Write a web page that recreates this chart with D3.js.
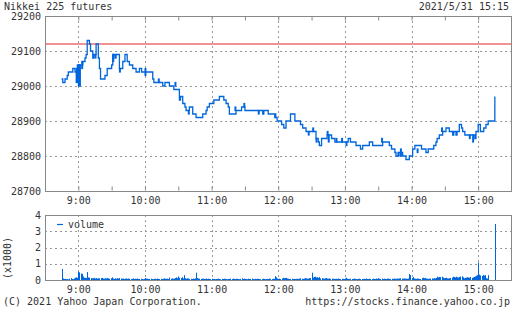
<!DOCTYPE html>
<html>
<head>
<meta charset="utf-8">
<script src="https://cdn.jsdelivr.net/npm/d3@7"></script>
<style>
  body { margin: 0; background: #fff; }
  svg { display: block; }
  text { font-family: "DejaVu Sans Mono", "Liberation Mono", monospace; font-size: 10px; fill: #333; }
</style>
</head>
<body>
<svg id="chart" width="512" height="310"></svg>
<script>
const title = "Nikkei 225 futures";
const stamp = "2021/5/31 15:15";
const day = "2021-05-31";
const refLine = 29120;

const priceTicks = [28700, 28800, 28900, 29000, 29100, 29200];
const volTicks = [0, 1, 2, 3, 4];
const hourTicks = ["9:00", "10:00", "11:00", "12:00", "13:00", "14:00", "15:00"];
const halfTicks = ["8:30", "9:00", "9:30", "10:00", "10:30", "11:00", "11:30", "12:00", "12:30",
  "13:00", "13:30", "14:00", "14:30", "15:00", "15:30"];

// price changes (step line)
const priceTimes = [
  "8:45", "8:46", "8:48", "8:50", "8:51", "8:55", "8:57", "8:58", "8:59", "9:00",
  "9:01", "9:03", "9:04", "9:06", "9:07", "9:08", "9:10", "9:11", "9:13", "9:14",
  "9:16", "9:18", "9:19", "9:20", "9:24", "9:26", "9:30", "9:31", "9:33", "9:34",
  "9:37", "9:40", "9:42", "9:44", "9:46", "9:49", "9:52", "9:55", "9:57", "10:07",
  "10:08", "10:16", "10:18", "10:22", "10:26", "10:28", "10:31", "10:32", "10:34", "10:36",
  "10:37", "10:40", "10:43", "10:46", "10:52", "10:55", "10:56", "10:58", "11:02", "11:07",
  "11:11", "11:13", "11:15", "11:16", "11:22", "11:27", "11:30", "11:44", "11:46", "11:47",
  "11:51", "11:57", "11:59", "12:03", "12:05", "12:07", "12:11", "12:15", "12:20", "12:22",
  "12:25", "12:29", "12:33", "12:34", "12:36", "12:37", "12:39", "12:44", "12:48", "12:51",
  "12:54", "12:58", "13:03", "13:05", "13:10", "13:14", "13:16", "13:22", "13:25", "13:34",
  "13:40", "13:42", "13:45", "13:46", "13:48", "13:52", "13:55", "13:58", "14:01", "14:03",
  "14:06", "14:09", "14:13", "14:15", "14:20", "14:22", "14:23", "14:25", "14:28", "14:31",
  "14:34", "14:37", "14:38", "14:40", "14:41", "14:43", "14:45", "14:46", "14:48", "14:53",
  "14:57", "14:58", "15:00", "15:02", "15:05", "15:07", "15:09", "15:15"
];
const priceValues = [
  29020, 29010, 29020, 29030, 29040, 29050, 29040, 29040, 29050, 29060,
  29060, 29060, 29070, 29080, 29090, 29130, 29120, 29100, 29080, 29090,
  29120, 29080, 29050, 29020, 29030, 29050, 29060, 29090, 29080, 29090,
  29050, 29070, 29090, 29070, 29060, 29050, 29040, 29050, 29040, 29020,
  29010, 29000, 29010, 29000, 28990, 28990, 28960, 28970, 28950, 28940,
  28930, 28940, 28920, 28910, 28920, 28930, 28940, 28950, 28960, 28970,
  28960, 28950, 28940, 28920, 28930, 28940, 28930, 28930, 28920, 28930,
  28920, 28910, 28900, 28890, 28880, 28900, 28920, 28900, 28890, 28880,
  28870, 28870, 28870, 28850, 28840, 28830, 28850, 28860, 28850, 28840,
  28840, 28840, 28850, 28840, 28830, 28820, 28830, 28840, 28830, 28840,
  28830, 28820, 28810, 28800, 28810, 28800, 28790, 28800, 28820, 28830,
  28830, 28820, 28810, 28820, 28830, 28840, 28850, 28860, 28870, 28880,
  28870, 28860, 28870, 28860, 28870, 28890, 28880, 28870, 28860, 28860,
  28850, 28870, 28890, 28870, 28880, 28890, 28900, 28970
];

// minutes that traded over a range
const spikeTimes = ["8:58", "8:59", "9:00", "9:01", "9:03", "9:15", "9:31", "9:37", "10:00", "10:12",
  "10:27", "10:39", "11:21", "11:29", "11:42", "11:57", "12:27", "12:31", "12:34", "12:44",
  "12:45", "12:52", "12:57", "13:01", "13:33", "13:48", "13:50", "14:05", "14:27", "14:52", "14:55"];
const spikeLow = [29010, 29010, 29000, 29000, 29050, 29080, 29070, 29040, 29030, 29010,
  29000, 28920, 28930, 28940, 28920, 28910, 28860, 28870, 28840, 28860,
  28840, 28840, 28840, 28830, 28840, 28800, 28800, 28810, 28870, 28850, 28840];
const spikeHigh = [29050, 29060, 29060, 29060, 29070, 29090, 29090, 29050, 29050, 29020,
  29010, 28930, 28940, 28950, 28930, 28920, 28870, 28880, 28850, 28870,
  28860, 28850, 28850, 28840, 28850, 28810, 28820, 28820, 28880, 28860, 28860];

// volume per minute from 8:45, one row per 15 minutes
const volStart = "8:45";
const volumes = [
  680, 90, 60, 70, 50, 60, 40, 80, 120, 60, 50, 90, 140, 160, 130,
  510, 470, 400, 380, 210, 140, 130, 120, 490, 160, 140, 120, 100, 110, 130,
  90, 120, 80, 110, 100, 120, 130, 90, 80, 110, 90, 120, 100, 80, 110,
  160, 90, 70, 100, 80, 110, 90, 120, 100, 80, 90, 60, 80, 100, 70,
  90, 80, 60, 70, 100, 60, 80, 70, 90, 60, 70, 80, 60, 50, 70,
  120, 90, 80, 60, 70, 80, 60, 50, 70, 80, 60, 90, 70, 60, 80,
  60, 70, 100, 80, 70, 90, 60, 150, 80, 100, 70, 90, 120, 160, 110,
  220, 140, 120, 170, 90, 300, 110, 80, 100, 90, 70, 80, 60, 90, 70,
  100, 450, 120, 90, 80, 70, 90, 80, 60, 70, 90, 60, 80, 70, 60,
  80, 60, 70, 50, 60, 70, 80, 60, 50, 70, 60, 80, 70, 60, 50,
  60, 70, 80, 60, 90, 70, 60, 80, 70, 60, 50, 70, 110, 60, 80,
  70, 60, 50, 80, 60, 70, 90, 60, 50, 70, 60, 80, 70, 60, 50,
  60, 80, 70, 50, 60, 70, 60, 90, 70, 60, 80, 70, 240, 160, 90,
  70, 80, 60, 90, 130, 110, 120, 130, 90, 80, 60, 70, 80, 60, 70,
  60, 70, 80, 60, 90, 110, 80, 70, 90, 120, 100, 80, 90, 110, 120,
  450, 150, 190, 200, 160, 170, 130, 180, 100, 120, 90, 80, 110, 120, 90,
  80, 100, 70, 90, 80, 60, 70, 80, 60, 90, 70, 60, 80, 70, 60,
  90, 140, 80, 70, 60, 80, 70, 60, 90, 70, 60, 50, 70, 80, 60,
  70, 60, 80, 60, 90, 70, 60, 80, 70, 60, 80, 70, 60, 90, 70,
  110, 80, 70, 90, 60, 80, 70, 60, 80, 90, 70, 60, 80, 70, 90,
  80, 70, 90, 80, 100, 110, 90, 80, 100, 90, 70, 80, 90, 370, 300,
  120, 180, 90, 80, 70, 90, 80, 70, 60, 120, 140, 110, 130, 90, 80,
  70, 90, 80, 100, 90, 110, 100, 130, 200, 160, 190, 180, 200, 150, 110,
  120, 140, 100, 90, 110, 120, 150, 200, 180, 160, 200, 170, 150, 190, 210,
  230, 160, 110, 130, 150, 170, 160, 140, 180, 130, 160, 190, 220, 260, 300,
  1080, 330, 280, 250, 310, 270, 300, 110, 90, 300, 0, 0, 0, 0, 0,
  3450
];

const parse = d3.timeParse("%Y-%m-%d %H:%M");
const t = s => parse(`${day} ${s}`);
const blue = "#0066dd";
const grid = "#999";
const frame = "#888";

const svg = d3.select("#chart");

const left = 45, right = 511.5;
const x = d3.scaleTime().domain([t("8:30"), t("15:30")]).range([left, right]);
const y = d3.scaleLinear().domain([28700, 29200]).range([191, 16]);
const yv = d3.scaleLinear().domain([0, 4]).range([280, 215]);

// header
svg.append("text").attr("x", 4).attr("y", 10).text(title);
svg.append("text").attr("x", 509).attr("y", 10).attr("text-anchor", "end").text(stamp);

function panel(ys, ticks, top, bottom) {
  const g = svg.append("g");
  // horizontal grid
  g.selectAll(".hg")
    .data(ticks.slice(1, -1))
    .enter().append("line")
    .attr("x1", left).attr("x2", right)
    .attr("y1", d => Math.round(ys(d)) + 0.5).attr("y2", d => Math.round(ys(d)) + 0.5)
    .attr("stroke", grid).attr("stroke-dasharray", "2,3");
  // vertical grid
  g.selectAll(".vg")
    .data(hourTicks)
    .enter().append("line")
    .attr("x1", d => Math.round(x(t(d))) + 0.5).attr("x2", d => Math.round(x(t(d))) + 0.5)
    .attr("y1", top).attr("y2", bottom)
    .attr("stroke", grid).attr("stroke-dasharray", "2,3");
  // y labels
  g.append("g")
    .attr("transform", `translate(${left},0)`)
    .call(d3.axisLeft(ys).tickValues(ticks).tickFormat(d3.format("d")).tickSize(0).tickPadding(4))
    .call(a => a.select(".domain").remove())
    .selectAll("text")
    .attr("fill", "#333")
    .style("font-family", "DejaVu Sans Mono")
    .style("font-size", "10px");
  // x labels
  g.append("g")
    .attr("transform", `translate(0,${bottom})`)
    .call(d3.axisBottom(x).tickValues(hourTicks.map(t)).tickFormat(d3.timeFormat("%-H:%M")).tickSize(0).tickPadding(6))
    .call(a => a.select(".domain").remove())
    .selectAll("text")
    .attr("fill", "#333")
    .style("font-family", "DejaVu Sans Mono")
    .style("font-size", "10px");
  return g;
}

const main = panel(y, priceTicks, 16, 191);
const vol = panel(yv, volTicks, 215, 280);

// half hour tick marks on main frame
main.append("g")
  .attr("transform", "translate(0,16.5)")
  .call(d3.axisTop(x).tickValues(halfTicks.map(t)).tickSize(-4).tickFormat(""))
  .call(a => a.select(".domain").remove())
  .selectAll("line").attr("stroke", frame);
main.append("g")
  .attr("transform", "translate(0,190.5)")
  .call(d3.axisBottom(x).tickValues(halfTicks.map(t)).tickSize(-4).tickFormat(""))
  .call(a => a.select(".domain").remove())
  .selectAll("line").attr("stroke", frame);

// reference line
svg.append("line")
  .attr("x1", left).attr("x2", right)
  .attr("y1", y(refLine)).attr("y2", y(refLine))
  .attr("stroke", "#e8262b").attr("stroke-width", 1.2);

// price step line
const priceData = priceTimes.map((s, i) => ({ time: t(s), value: priceValues[i] }));
svg.append("path")
  .datum(priceData)
  .attr("fill", "none")
  .attr("stroke", blue)
  .attr("stroke-width", 1.3)
  .attr("d", d3.line().x(d => x(d.time)).y(d => y(d.value)).curve(d3.curveStepAfter));

svg.selectAll(".spike")
  .data(spikeTimes.map((s, i) => ({ time: t(s), lo: spikeLow[i], hi: spikeHigh[i] })))
  .enter().append("rect")
  .attr("x", d => x(d.time) - 0.5)
  .attr("width", 2)
  .attr("y", d => y(d.hi) - 0.6)
  .attr("height", d => y(d.lo) - y(d.hi) + 1.2)
  .attr("fill", blue);

// volume bars
const v0 = t(volStart);
svg.selectAll(".vbar")
  .data(volumes.map((v, i) => ({ time: d3.timeMinute.offset(v0, i), value: v / 1000 })))
  .enter().append("rect")
  .attr("x", d => Math.round(x(d.time)))
  .attr("width", 1)
  .attr("y", d => yv(d.value))
  .attr("height", d => yv(0) - yv(d.value))
  .attr("fill", blue);

// frames
[[16, 191], [215, 280]].forEach(([a, b]) => {
  svg.append("rect")
    .attr("x", left + 0.5).attr("y", a + 0.5)
    .attr("width", 466).attr("height", b - a)
    .attr("fill", "none").attr("stroke", frame);
});

// volume legend + unit
svg.append("line")
  .attr("x1", 57).attr("x2", 63).attr("y1", 224.5).attr("y2", 224.5)
  .attr("stroke", blue).attr("stroke-width", 1.2);
svg.append("text").attr("x", 68).attr("y", 228).text("volume");
svg.append("text")
  .attr("transform", "translate(11,258) rotate(-90)")
  .attr("text-anchor", "middle")
  .text("(x1000)");

// footer
svg.append("text").attr("x", 3).attr("y", 305).text("(C) 2021 Yahoo Japan Corporation.");
svg.append("text").attr("x", 510).attr("y", 305).attr("text-anchor", "end").text("https://stocks.finance.yahoo.co.jp");
</script>
</body>
</html>
